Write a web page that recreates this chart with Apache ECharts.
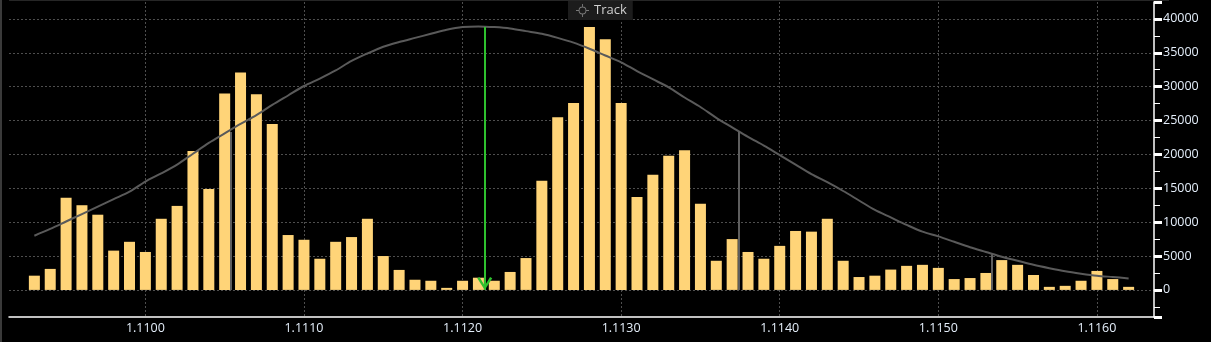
<!DOCTYPE html>
<html><head><meta charset="utf-8">
<script src="https://cdn.jsdelivr.net/npm/echarts@6/dist/echarts.min.js"></script>
<style>html,body{margin:0;padding:0;background:#000;overflow:hidden}#c{width:1211px;height:342px}</style>
</head><body><div id="c"></div>
<script>
const prices = [1.1093,1.1094,1.1095,1.1096,1.1097,1.1098,1.1099,1.1100,1.1101,1.1102,
  1.1103,1.1104,1.1105,1.1106,1.1107,1.1108,1.1109,1.1110,1.1111,1.1112,
  1.1113,1.1114,1.1115,1.1116,1.1117,1.1118,1.1119,1.1120,1.1121,1.1122,
  1.1123,1.1124,1.1125,1.1126,1.1127,1.1128,1.1129,1.1130,1.1131,1.1132,
  1.1133,1.1134,1.1135,1.1136,1.1137,1.1138,1.1139,1.1140,1.1141,1.1142,
  1.1143,1.1144,1.1145,1.1146,1.1147,1.1148,1.1149,1.1150,1.1151,1.1152,
  1.1153,1.1154,1.1155,1.1156,1.1157,1.1158,1.1159,1.1160,1.1161,1.1162];
const volumes = [2100,3100,13600,12500,11100,5800,7100,5600,10500,12400,
  20500,14900,29000,32100,28900,24500,8100,7400,4600,7100,
  7800,10500,5000,2950,1500,1350,300,1350,1800,1350,
  2650,4700,16100,25500,27600,38800,37000,27600,13700,17000,
  19800,20600,12700,4300,7500,5600,4600,6500,8700,8600,
  10500,4300,1900,2100,3000,3550,3700,3250,1600,1750,
  2500,4400,3700,2200,450,600,1350,2800,1600,450];
const trackCurve = [8000,9000,10100,11200,12300,13400,14500,16000,17200,18500,
  20100,21700,23100,24500,25800,27300,28700,30100,31200,32400,
  33800,34900,35900,36600,37200,37800,38400,38800,38900,38800,
  38600,38200,37800,37200,36500,35600,34600,33600,32300,31100,
  29900,28400,27000,25400,24000,22600,21300,19900,18500,17100,
  15900,14600,13200,11800,10700,9600,8600,7900,7100,6300,
  5600,4900,4300,3700,3200,2750,2400,2100,1900,1700];
const sigmaPrices = [1.11054, 1.11374, 1.11534];
const sigmaHeights = [23300, 23400, 5250];
const centerPrice = 1.11214;
const centerHeight = 38800;
const xRange = [1.10914, 1.11636];
const yRange = [-4000, 42500];
const legendLabels = ['Track'];

const chart = echarts.init(document.getElementById('c'), null, {renderer: 'canvas'});
const font = '"Open Sans", "Noto Sans", sans-serif';
const labelColor = '#e4eefa';
const gridColor = '#4e4e4e';
// chevron with its tip at the symbol centre (an invisible point balances the box)
const arrowPath = 'path://M5,10 L10,19 L8.5,20 L5,13.2 L1.5,20 L0,19 Z M5,0 L5.01,0 L5,0.01 Z';
const crossPath = 'path://M9.3,0h1.4v5h-1.4z M9.3,15h1.4v5h-1.4z M0,9.3h5v1.4h-5z M15,9.3h5v1.4h-5z M10,4 A6,6 0 1,1 9.99,4 Z M10,5.4 A4.6,4.6 0 1,0 10.01,5.4 Z';

chart.setOption({
  backgroundColor: '#000',
  animation: false,
  textStyle: {fontFamily: font},
  graphic: [
    {type: 'rect', left: 0, top: 0, shape: {width: 2, height: 342}, style: {fill: '#3a3a3a'}, silent: true},
    {type: 'rect', left: 9, top: 0, shape: {width: 1160, height: 1}, style: {fill: '#262626'}, silent: true}
  ],
  legend: {
    data: [{name: legendLabels[0], icon: crossPath, itemStyle: {color: '#7a7a7a'}}],
    left: 568, top: 1,
    padding: [3, 6, 3, 8],
    backgroundColor: '#1c1c1c',
    itemWidth: 13, itemHeight: 13,
    selectedMode: false,
    textStyle: {color: '#cfcfcf', fontSize: 13, fontFamily: font}
  },
  grid: {left: 9, right: 57, top: 2, bottom: 25, containLabel: false},
  xAxis: {
    type: 'value',
    min: xRange[0], max: xRange[1],
    splitNumber: 7,
    axisLine: {show: true, onZero: false, lineStyle: {color: '#ffffff', width: 1.5}},
    axisTick: {show: false},
    axisLabel: {color: labelColor, fontSize: 12.5, margin: 5, fontFamily: font,
      showMinLabel: false, showMaxLabel: false,
      formatter: v => v.toFixed(4)},
    splitLine: {show: true, showMinLine: false, showMaxLine: false,
      lineStyle: {color: gridColor, type: [2, 2], width: 1}}
  },
  yAxis: {
    type: 'value',
    position: 'right',
    min: yRange[0], max: yRange[1],
    splitNumber: 9,
    axisLine: {show: true, lineStyle: {color: '#ffffff', width: 1.5}},
    axisTick: {show: true, length: 8, lineStyle: {color: '#ffffff', width: 3}},
    minorTick: {show: true, splitNumber: 2, length: 6, lineStyle: {color: '#ffffff', width: 1}},
    axisLabel: {color: labelColor, fontSize: 12.5, margin: 9, fontFamily: font,
      showMinLabel: false, showMaxLabel: false,
      formatter: v => String(Math.round(v))},
    splitLine: {show: true, showMinLine: false, showMaxLine: false,
      lineStyle: {color: gridColor, type: [2, 2], width: 1}}
  },
  series: [
    {
      name: 'Volume',
      type: 'bar',
      data: prices.map((p, i) => [p, volumes[i]]),
      barWidth: 11,
      itemStyle: {color: '#ffd478'},
      z: 2,
      markLine: {
        silent: true,
        animation: false,
        label: {show: false},
        lineStyle: {color: '#2ec02e', width: 2, type: 'solid'},
        symbol: ['none', arrowPath],
        symbolSize: [15, 26],
        data: [[{coord: [centerPrice, centerHeight], symbol: 'none'},
                {coord: [centerPrice, 0], symbol: arrowPath, symbolSize: [15, 26]}]]
      }
    },
    {
      name: legendLabels[0],
      type: 'line',
      data: prices.map((p, i) => [p, trackCurve[i]]),
      smooth: 0.3,
      showSymbol: false,
      lineStyle: {color: '#5a5a5a', width: 2},
      itemStyle: {color: '#5a5a5a'},
      z: 3,
      markLine: {
        silent: true,
        animation: false,
        symbol: 'none',
        label: {show: false},
        lineStyle: {color: '#5e5e5e', width: 2, type: 'solid'},
        data: sigmaPrices.map((p, i) => [{coord: [p, 0]}, {coord: [p, sigmaHeights[i]]}])
      }
    }
  ]
});
</script>
</body></html>
